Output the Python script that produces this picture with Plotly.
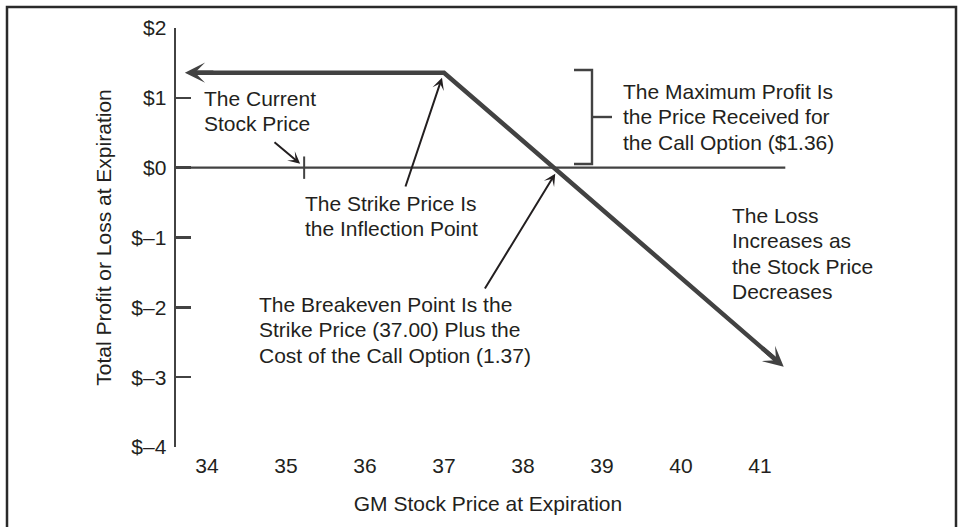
import numpy as np
import plotly.graph_objects as go

# ---------------- data ----------------
x_tick_vals = [34, 35, 36, 37, 38, 39, 40, 41]
y_tick_vals = [-4, -3, -2, -1, 0, 1, 2]
y_tick_text = ["$–4", "$–3", "$–2", "$–1", "$0", "$1", "$2"]

payoff_price = [33.72, 37.00, 41.30]     # stock price at expiration
payoff_profit = [1.36, 1.36, -2.85]      # profit / loss of the short call

zero_price = [33.608, 41.32]
zero_profit = [0.0, 0.0]

current_price = [35.23]
current_profit = [0.0]

strike_price = 37.00
breakeven_price = 38.37
max_profit = 1.36

# ---------------- layout geometry ----------------
W, H = 963, 527
L, R, T, B = 176, 163, 28, 80
X_RANGE = [33.608, 41.506]
Y_RANGE = [-4, 2]
PW, PH = W - L - R, H - T - B

INK = "#424242"
TXT = "#231f20"
FONT = "Liberation Sans, Arial, Helvetica, sans-serif"
FS = 21


def px2x(px):
    return X_RANGE[0] + (px - L) / PW * (X_RANGE[1] - X_RANGE[0])


def py2y(py):
    return Y_RANGE[1] - (py - T) / PH * (Y_RANGE[1] - Y_RANGE[0])


def x2px(x):
    return L + (x - X_RANGE[0]) / (X_RANGE[1] - X_RANGE[0]) * PW


def y2py(y):
    return T + (Y_RANGE[1] - y) / (Y_RANGE[1] - Y_RANGE[0]) * PH


def ppx(px):  # pixel -> paper x
    return (px - L) / PW


def ppy(py):  # pixel -> paper y
    return 1 - (py - T) / PH


# trimmed copy of the payoff line so the arrowheads make sharp tips
lx = np.array([x2px(v) for v in payoff_price])
ly = np.array([y2py(v) for v in payoff_profit])
TRIM = 8.0
for end, nb in ((0, 1), (-1, -2)):
    d = np.array([lx[nb] - lx[end], ly[nb] - ly[end]])
    d = d / np.hypot(*d)
    lx[end] += d[0] * TRIM
    ly[end] += d[1] * TRIM
line_x = [px2x(v) for v in lx]
line_y = [py2y(v) for v in ly]

fig = go.Figure()

# zero line
fig.add_trace(go.Scatter(x=zero_price, y=zero_profit, mode="lines",
                         line=dict(color=INK, width=2.4),
                         hoverinfo="skip", showlegend=False, cliponaxis=False))

# payoff line
fig.add_trace(go.Scatter(x=line_x, y=line_y, mode="lines",
                         line=dict(color=INK, width=4.5),
                         hoverinfo="skip", showlegend=False, cliponaxis=False))

# current stock price tick
fig.add_trace(go.Scatter(x=current_price, y=current_profit, mode="markers",
                         marker=dict(symbol="line-ns", size=16,
                                     line=dict(color=INK, width=2)),
                         hoverinfo="skip", showlegend=False, cliponaxis=False))

annotations = []

# arrowheads at both ends of the payoff line
for end, nb in ((0, 1), (-1, -2)):
    tx, ty = x2px(payoff_price[end]), y2py(payoff_profit[end])
    nx, ny = x2px(payoff_price[nb]), y2py(payoff_profit[nb])
    d = np.array([nx - tx, ny - ty])
    d = d / np.hypot(*d) * 30
    annotations.append(dict(x=payoff_price[end], y=payoff_profit[end],
                            xref="x", yref="y", ax=float(d[0]), ay=float(d[1]),
                            text="", showarrow=True, arrowhead=3,
                            arrowsize=0.75, arrowwidth=4.5, arrowcolor=INK,
                            standoff=0))


def text_lines(lines, left_px, first_py, step=25.6):
    for i, s in enumerate(lines):
        annotations.append(dict(x=ppx(left_px), y=ppy(first_py + i * step),
                                xref="paper", yref="paper", text=s,
                                showarrow=False, xanchor="left",
                                yanchor="middle",
                                font=dict(family=FONT, size=FS, color=TXT)))


def pointer(head, tail):
    annotations.append(dict(x=px2x(head[0]), y=py2y(head[1]), xref="x",
                            yref="y", ax=tail[0] - head[0],
                            ay=tail[1] - head[1], text="", showarrow=True,
                            arrowhead=3, arrowsize=1.0, arrowwidth=2,
                            arrowcolor=TXT, standoff=0))


text_lines(["The Current", "Stock Price"], 202, 98)
pointer((x2px(current_price[0]) - 4, y2py(0) - 4), (273, 141))

text_lines(["The Strike Price Is", "the Inflection Point"], 303, 203)
pointer((x2px(strike_price) - 2, y2py(max_profit) + 5), (405, 188))

text_lines(["The Breakeven Point Is the", "Strike Price (37.00) Plus the",
            "Cost of the Call Option (1.37)"], 257, 304)
pointer((x2px(breakeven_price) + 3, y2py(0) + 6), (484, 290))

text_lines(["The Maximum Profit Is", "the Price Received for",
            "the Call Option ($1.36)"], 621, 91)

text_lines(["The Loss", "Increases as", "the Stock Price", "Decreases"],
           730, 215)

shapes = []
# bracket for maximum profit
bx = 592
shapes.append(dict(type="path", xref="paper", yref="paper",
                   path=(f"M{ppx(574)},{ppy(70)} L{ppx(bx)},{ppy(70)} "
                         f"L{ppx(bx)},{ppy(164)} L{ppx(574)},{ppy(164)}"),
                   line=dict(color=INK, width=2.4)))
shapes.append(dict(type="line", xref="paper", yref="paper",
                   x0=ppx(bx), x1=ppx(612), y0=ppy(117), y1=ppy(117),
                   line=dict(color=INK, width=2.4)))
# outer frame
shapes.append(dict(type="rect", xref="paper", yref="paper",
                   x0=ppx(7), x1=ppx(956), y0=ppy(7), y1=ppy(535),
                   line=dict(color="#2a2a2a", width=2.5)))

fig.update_layout(
    width=W, height=H,
    margin=dict(l=L, r=R, t=T, b=B, pad=0),
    paper_bgcolor="white", plot_bgcolor="white",
    font=dict(family=FONT, size=FS, color=TXT),
    showlegend=False,
    annotations=annotations,
    shapes=shapes,
    xaxis=dict(range=X_RANGE, tickmode="array", tickvals=x_tick_vals,
               ticktext=[str(v) for v in x_tick_vals], showline=False,
               showgrid=False, zeroline=False, ticks="",
               tickfont=dict(size=FS, color=TXT), ticklabelstandoff=4,
               title=dict(text="GM Stock Price at Expiration",
                          font=dict(size=FS, color=TXT), standoff=20)),
    yaxis=dict(range=Y_RANGE, tickmode="array", tickvals=y_tick_vals,
               ticktext=y_tick_text, showline=True, linecolor=INK,
               linewidth=2.4, ticks="inside", ticklen=15, tickwidth=2.4,
               tickcolor=INK, showgrid=False, zeroline=False,
               tickfont=dict(size=FS, color=TXT), ticklabelstandoff=3,
               title=dict(text="Total Profit or Loss at Expiration",
                          font=dict(size=FS, color=TXT), standoff=14)),
)

fig.write_html(
    "out.html",
    config={"displayModeBar": False, "staticPlot": True},
    post_script="document.body.style.margin='0';document.body.style.overflow='hidden';",
)
